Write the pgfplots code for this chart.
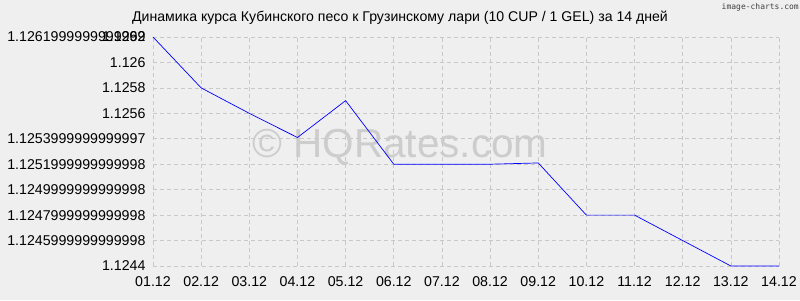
\documentclass[border=0pt]{standalone}
\usepackage{pgfplots}
\pgfplotsset{compat=1.18}
\usepackage{fontspec}
\setmainfont{Liberation Sans}
\newfontfamily\monofont{DejaVu Sans Mono}
\definecolor{bg}{RGB}{239,239,239}
\definecolor{gridc}{RGB}{200,200,200}
\definecolor{wm}{RGB}{205,205,205}
\begin{document}
\begin{tikzpicture}[x=1pt,y=1pt]
\fill[bg] (0,0) rectangle (800,300);
\useasboundingbox (0,0) rectangle (800,300);
\node[text=wm,font=\fontsize{40.5}{44}\selectfont] at (400,153) {© HQRates.com};
\node[font=\fontsize{14.1}{17}\selectfont] at (400,282) {Динамика курса Кубинского песо к Грузинскому лари (10 CUP / 1 GEL) за 14 дней};
\node[anchor=north east,font=\monofont\fontsize{8}{10}\selectfont,text=black!75,inner sep=0pt] at (799,297) {image-charts.com};
\begin{axis}[
  at={(153pt,34pt)}, anchor=south west,
  scale only axis, width=626pt, height=229pt,
  xmin=0, xmax=13, ymin=1.1244, ymax=1.1262,
  axis line style={draw=none},
  major tick length=0pt,
  grid=major,
  major grid style={gridc, dash pattern=on 4pt off 3pt, line width=0.6pt},
  xtick={0,...,13},
  xticklabels={01.12,02.12,03.12,04.12,05.12,06.12,07.12,08.12,09.12,10.12,11.12,12.12,13.12,14.12},
  ytick={1.1244,1.1246,1.1248,1.125,1.1252,1.1254,1.1256,1.1258,1.126,1.1262},
  yticklabels={1.1244,1.1245999999999998,1.1247999999999998,1.1249999999999998,1.1251999999999998,1.1253999999999997,1.1256,1.1258,1.126,{\makebox[0pt][r]{1.1261999999999999}\makebox[0pt][r]{1.1262}}},
  ticklabel style={font=\fontsize{14.2}{17}\selectfont},
  xticklabel style={yshift=-7pt},
  yticklabel style={xshift=-4pt},
  clip=false,
]
\addplot[blue, line width=0.7pt] coordinates {
(0,1.1262) (1,1.1258) (2,1.1256) (3,1.12541) (4,1.1257) (5,1.1252) (6,1.1252) (7,1.1252) (8,1.12521) (9,1.1248) (10,1.12480) (11,1.1246) (12,1.1244) (13,1.1244)
};
\end{axis}
\end{tikzpicture}
\end{document}
